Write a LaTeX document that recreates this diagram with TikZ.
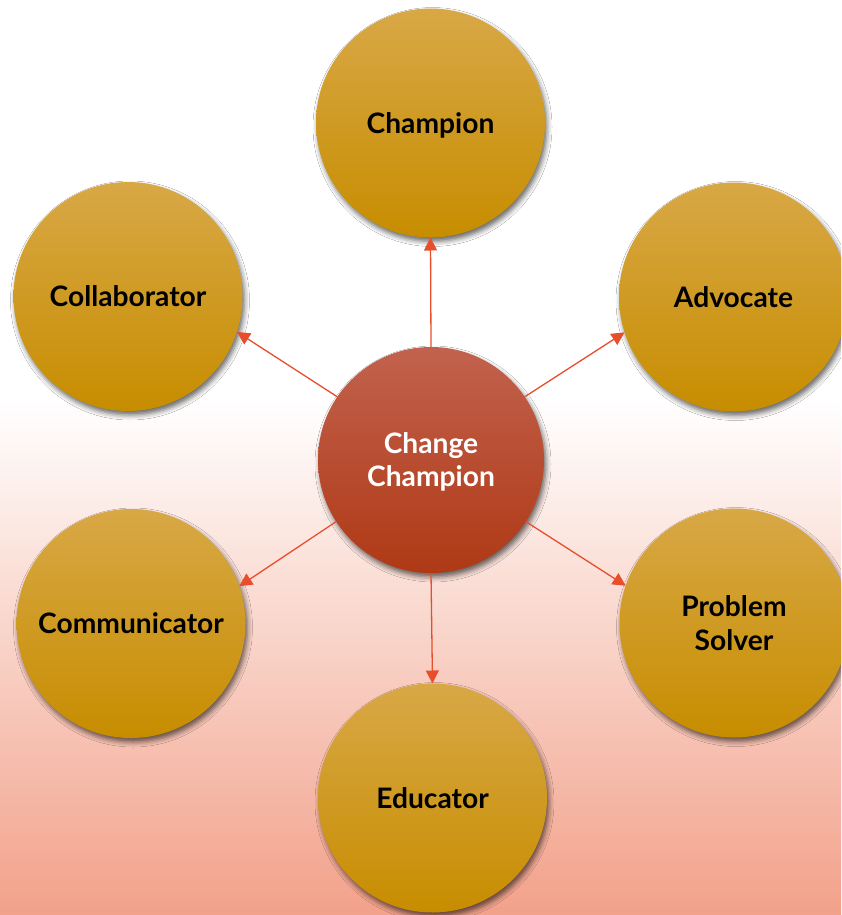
\documentclass[tikz,border=0pt]{standalone}
\usepackage{fontspec}
\setmainfont{Lato}
\usetikzlibrary{shadows.blur,arrows.meta}
\definecolor{goldtop}{HTML}{D8A846}
\definecolor{goldmid}{HTML}{D49F02}
\definecolor{goldbot}{HTML}{C78D00}
\definecolor{redtop}{HTML}{C2624E}
\definecolor{redmid}{HTML}{BA4629}
\definecolor{redbot}{HTML}{AF3915}
\definecolor{bgbot}{HTML}{F2A18A}
\definecolor{arrowc}{HTML}{E84E2C}
\begin{document}
\begin{tikzpicture}[x=1pt,y=-1pt,
  role/.style={circle, minimum size=229pt, inner sep=0pt, outer sep=0pt,
    top color=goldtop, middle color=goldmid, bottom color=goldbot,
    font=\fontsize{28.2}{34}\selectfont\bfseries, text=black, align=center, text depth=0pt,
    blur shadow={shadow xshift=2pt, shadow yshift=-4pt, shadow blur radius=5pt, shadow opacity=60}},
  hub/.style={circle, minimum size=226pt, inner sep=0pt, outer sep=0pt,
    top color=redtop, middle color=redmid, bottom color=redbot,
    font=\fontsize{28.2}{33}\selectfont\bfseries, text=white, align=center, text depth=0pt,
    blur shadow={shadow xshift=2pt, shadow yshift=-4pt, shadow blur radius=5pt, shadow opacity=60}},
  link/.style={draw=arrowc, line width=1.3pt, -{Triangle[length=13pt,width=13pt]}}
]
\useasboundingbox (0,0) rectangle (841,915);
\clip (0,0) rectangle (841,915);
\fill[white] (0,0) rectangle (841,401);
\shade[top color=white, bottom color=bgbot] (0,400) rectangle (841,915);

\node[role] (champ) at (430.5,123) {Champion};
\node[role] (collab) at (128,296.5) {Collaborator};
\node[role] (adv) at (733.5,297) {Advocate};
\node[role] (comm) at (131,623.5) {Communicator};
\node[role] (ps) at (734,623) {Problem\\Solver};
\node[role] (edu) at (432.5,798) {Educator};
\node[hub] (c) at (431,460) {Change\\Champion};

\draw[link] (c.90) -- (champ.-90);
\draw[link] (c.146) -- (collab.-18);
\draw[link] (c.34) -- (adv.198);
\draw[link] (c.213) -- (comm.19);
\draw[link] (c.-33) -- (ps.161.5);
\draw[link] (c.-90) -- (edu.90);
\end{tikzpicture}
\end{document}
